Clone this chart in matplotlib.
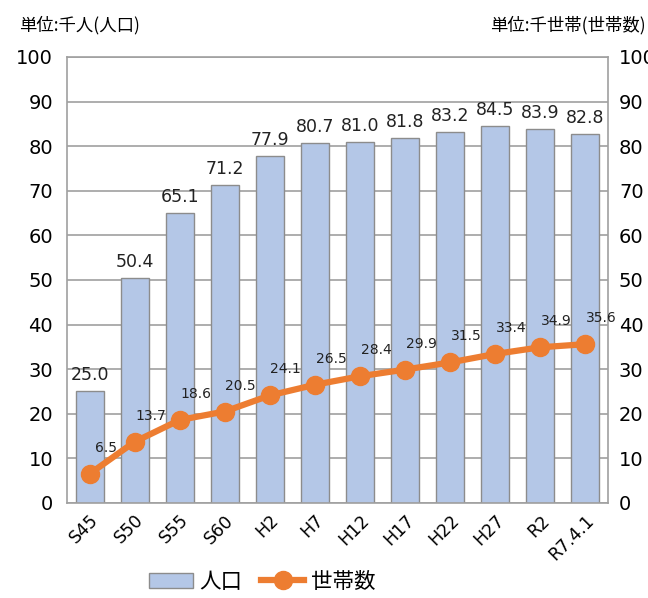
import matplotlib.pyplot as plt
import numpy as np

plt.rcParams['font.family'] = ['DejaVu Sans', 'Noto Sans CJK JP']

years = ['S45', 'S50', 'S55', 'S60', 'H2', 'H7', 'H12', 'H17', 'H22', 'H27', 'R2', 'R7.4.1']
population = [25.0, 50.4, 65.1, 71.2, 77.9, 80.7, 81.0, 81.8, 83.2, 84.5, 83.9, 82.8]
households = [6.5, 13.7, 18.6, 20.5, 24.1, 26.5, 28.4, 29.9, 31.5, 33.4, 34.9, 35.6]

bar_color = '#B4C7E7'
line_color = '#ED7D31'
grid_color = '#A0A0A0'
cjk = ['Noto Sans CJK JP', 'DejaVu Sans']

fig = plt.figure(figsize=(6.48, 5.98), dpi=100)
ax = fig.add_axes([0.1034, 0.159, 0.8346, 0.7457])
x = np.arange(len(years))

ax.set_axisbelow(True)
ax.yaxis.grid(True, color=grid_color, linewidth=1.2)
bars = ax.bar(x, population, width=0.62, color=bar_color, edgecolor='#8C8C8C',
              linewidth=1.0, label='人口', zorder=2)
for xi, v in zip(x, population):
    ax.annotate(f'{v:.1f}', (xi, v), xytext=(0, 7), textcoords='offset pixels',
                ha='center', va='bottom', fontsize=12.5, color='#222222')

ax.set_ylim(0, 100)
ax.set_xlim(-0.5, len(years) - 0.5)
ax.set_yticks(range(0, 101, 10))
ax.tick_params(axis='y', length=0, pad=10, labelsize=14)
ax.tick_params(axis='x', length=0, pad=6, labelsize=12.5)
ax.set_xticks(x)
ax.set_xticklabels(years, rotation=45, ha='right', rotation_mode='anchor')
for s in ax.spines.values():
    s.set_color(grid_color)
    s.set_linewidth(1.2)

ax2 = ax.twinx()
ax2.set_ylim(0, 100)
ax2.set_yticks(range(0, 101, 10))
ax2.tick_params(axis='y', length=0, pad=8, labelsize=14)
for s in ax2.spines.values():
    s.set_visible(False)
line, = ax2.plot(x, households, color=line_color, linewidth=4.5, marker='o',
                 markersize=13, label='世帯数', zorder=3)
for xi, v in zip(x, households):
    ax2.annotate(f'{v:.1f}', (xi, v), xytext=(16, 26), textcoords='offset pixels',
                 ha='center', va='center', fontsize=10, color='#222222')

fig.text(0.03, 0.958, '単位:千人(人口)', fontsize=12.5, ha='left', va='center', family=cjk)
fig.text(0.997, 0.958, '単位:千世帯(世帯数)', fontsize=12.5, ha='right', va='center', family=cjk)

fig.legend([bars, line], ['人口', '世帯数'], loc='center', bbox_to_anchor=(0.405, 0.027),
           ncol=2, frameon=False, prop={'family': cjk, 'size': 15.5}, handlelength=2.0,
           columnspacing=0.9, handletextpad=0.3)

fig.savefig('out.png', dpi=100)
